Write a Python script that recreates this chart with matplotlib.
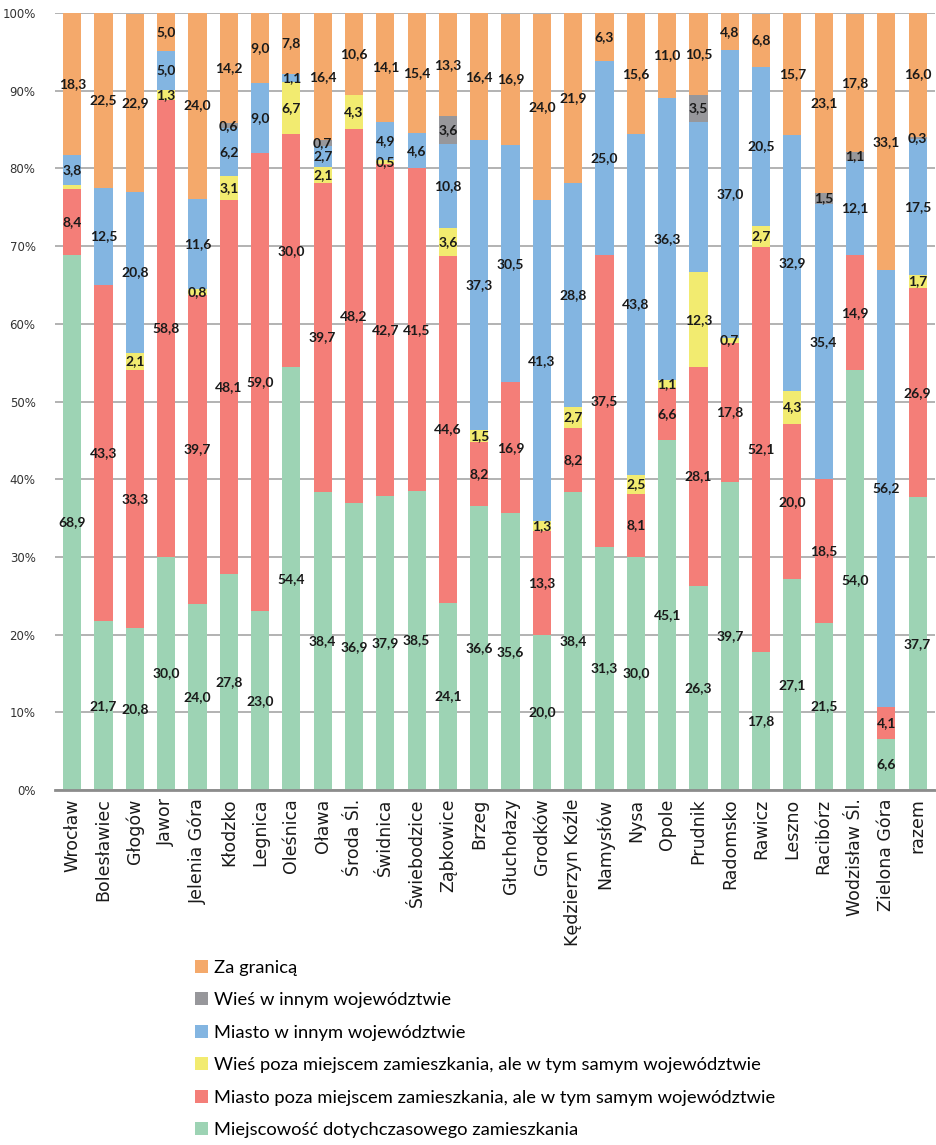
import numpy as np
import matplotlib
matplotlib.use('Agg')
import matplotlib.pyplot as plt

miasta = ['Wrocław', 'Bolesławiec', 'Głogów', 'Jawor', 'Jelenia Góra', 'Kłodzko', 'Legnica',
          'Oleśnica', 'Oława', 'Środa Śl.', 'Świdnica', 'Świebodzice', 'Ząbkowice', 'Brzeg',
          'Głuchołazy', 'Grodków', 'Kędzierzyn Koźle', 'Namysłów', 'Nysa', 'Opole', 'Prudnik',
          'Radomsko', 'Rawicz', 'Leszno', 'Racibórz', 'Wodzisław Śl.', 'Zielona Góra', 'razem']

# od dolu do gory
miejscowosc = [68.9, 21.7, 20.8, 30.0, 24.0, 27.8, 23.0, 54.4, 38.4, 36.9, 37.9, 38.5, 24.1, 36.6,
               35.6, 20.0, 38.4, 31.3, 30.0, 45.1, 26.3, 39.7, 17.8, 27.1, 21.5, 54.0, 6.6, 37.7]
miasto_woj = [8.4, 43.3, 33.3, 58.8, 39.7, 48.1, 59.0, 30.0, 39.7, 48.2, 42.7, 41.5, 44.6, 8.2,
              16.9, 13.3, 8.2, 37.5, 8.1, 6.6, 28.1, 17.8, 52.1, 20.0, 18.5, 14.9, 4.1, 26.9]
wies_woj = [0.6, 0, 2.1, 1.3, 0.8, 3.1, 0, 6.7, 2.1, 4.3, 0.5, 0, 3.6, 1.5,
            0, 1.3, 2.7, 0, 2.5, 1.1, 12.3, 0.7, 2.7, 4.3, 0, 0, 0, 1.7]
miasto_inne = [3.8, 12.5, 20.8, 5.0, 11.6, 6.2, 9.0, 1.1, 2.7, 0, 4.9, 4.6, 10.8, 37.3,
               30.5, 41.3, 28.8, 25.0, 43.8, 36.3, 19.3, 37.0, 20.5, 32.9, 35.4, 12.1, 56.2, 17.5]
wies_inne = [0, 0, 0, 0, 0, 0.6, 0, 0, 0.7, 0, 0, 0, 3.6, 0,
             0, 0, 0, 0, 0, 0, 3.5, 0, 0, 0, 1.5, 1.1, 0, 0.3]
za_granica = [18.3, 22.5, 22.9, 5.0, 24.0, 14.2, 9.0, 7.8, 16.4, 10.6, 14.1, 15.4, 13.3, 16.4,
              16.9, 24.0, 21.9, 6.3, 15.6, 11.0, 10.5, 4.8, 6.8, 15.7, 23.1, 17.8, 33.1, 16.0]

serie = [miejscowosc, miasto_woj, wies_woj, miasto_inne, wies_inne, za_granica]
nazwy = ['Miejscowość dotychczasowego zamieszkania',
         'Miasto poza miejscem zamieszkania, ale w tym samym województwie',
         'Wieś poza miejscem zamieszkania, ale w tym samym województwie',
         'Miasto w innym województwie',
         'Wieś w innym województwie',
         'Za granicą']
kolory = ['#9dd3b4', '#f47e78', '#f2eb70', '#83b5e1', '#97979b', '#f4a96b']

# etykiety ktorych nie ma na oryginale (seria, miasto)
ukryte = [(2, 0), (3, 20)]

fig = plt.figure(figsize=(9.37, 11.45), dpi=100)
ax = fig.add_axes([0.0587, 0.31, 0.939, 0.6786])

x = np.arange(len(miasta))
dol = np.zeros(len(miasta))
uchwyty = []
for i, vals in enumerate(serie):
    vals = np.array(vals)
    b = ax.bar(x, vals, 0.58, bottom=dol, color=kolory[i], zorder=3)
    uchwyty.append(b)
    for j, v in enumerate(vals):
        if v > 0 and (i, j) not in ukryte:
            ax.text(x[j], dol[j] + v / 2, ('%.1f' % v).replace('.', ','),
                    ha='center', va='center', fontsize=10, fontweight='bold',
                    family='Lato', color='#1a1a1a', zorder=4)
    dol += vals

ax.set_xlim(-0.55, len(miasta) - 0.45)
ax.set_ylim(0, 100)
ax.set_yticks(range(0, 101, 10))
ax.set_yticklabels(['%d%%' % t for t in range(0, 101, 10)], fontsize=8.5, color='#333333')
ax.set_xticks(x)
ax.set_xticklabels(miasta, rotation=90, fontsize=12.5, color='#1a1a1a')
ax.tick_params(length=0)
ax.tick_params(axis='x', pad=6)
ax.tick_params(axis='y', pad=14)
ax.grid(axis='y', color='#a6a6a6', linewidth=1.2, zorder=0)
for s in ['top', 'right', 'left']:
    ax.spines[s].set_visible(False)
ax.spines['bottom'].set_color('#8c8c8c')
ax.spines['bottom'].set_linewidth(2)
ax.spines['bottom'].set_zorder(5)

leg = fig.legend(uchwyty[::-1], nazwy[::-1], loc='upper left',
                 bbox_to_anchor=(0.208, 0.162), frameon=False,
                 prop={'family': 'Lato', 'size': 13.2},
                 handlelength=0.7, handleheight=0.7, handletextpad=0.35,
                 labelspacing=0.9, borderpad=0, borderaxespad=0)

fig.savefig('out.png', dpi=100)
